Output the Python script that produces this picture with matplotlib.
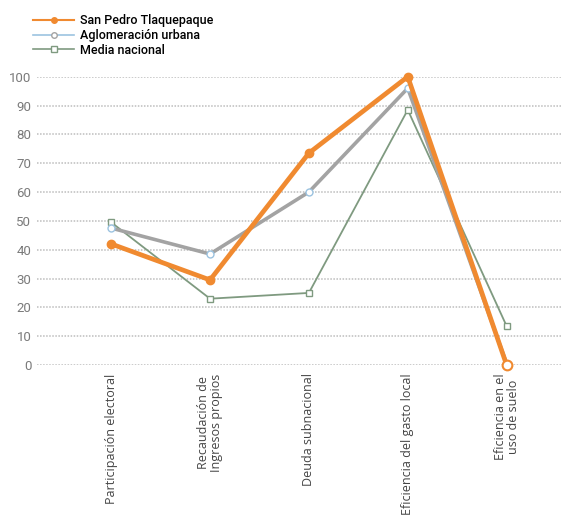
import matplotlib
matplotlib.use('Agg')
import matplotlib.pyplot as plt
from matplotlib.lines import Line2D
import numpy as np

# Categories (x axis)
categories = ['Participación electoral',
              'Recaudación de\nIngresos propios',
              'Deuda subnacional',
              'Eficiencia del gasto local',
              'Eficiencia en el\nuso de suelo']

# Series values
san_pedro = [42, 29.5, 73.5, 100, 0]
aglomeracion = [47.5, 38.5, 60, 96, 0.5]
media_nacional = [49.5, 23, 25, 88.5, 13.5]

series_names = ['San Pedro Tlaquepaque', 'Aglomeración urbana', 'Media nacional']

y_ticks = list(range(0, 101, 10))

narrow = ['Roboto', 'DejaVu Sans']

orange = '#f08a30'
gray = '#a3a3a3'
green = '#7f9a80'
lightblue = '#9cc3e0'

fig = plt.figure(figsize=(5.61, 5.21), dpi=100)
ax = fig.add_axes([37 / 561, 1 - 365 / 521, 1 - 37 / 561, (365 - 76.7) / 521])

x = np.arange(len(categories))

ax.plot(x, media_nacional, color=green, lw=1.3, marker='s', ms=5,
        mfc='white', mec=green, mew=1.0, zorder=3, clip_on=False)
ax.plot(x, aglomeracion, color=gray, lw=2.6, marker='o', ms=5,
        mfc='white', mec=lightblue, mew=1.0, zorder=4, clip_on=False)
ax.plot(x, san_pedro, color=orange, lw=3.4, marker='o', ms=6,
        mfc=orange, mec=orange, zorder=5, clip_on=False)
# last orange point is drawn open
ax.plot(x[-1], san_pedro[-1], marker='o', ms=7, mfc='white', mec=orange,
        mew=1.5, ls='none', zorder=6, clip_on=False)

ax.set_xlim(-0.75, 4.55)
ax.set_ylim(0, 100)
ax.set_yticks(y_ticks)
ax.set_yticklabels([str(v) for v in y_ticks], fontsize=9.5, color='#7a7a7a',
                   family=narrow)
ax.set_xticks(x)
ax.set_xticklabels(categories, rotation=90, fontsize=9, color='#444444',
                   family=['Open Sans', 'DejaVu Sans'], va='top', ha='center',
                   linespacing=1.0)
ax.tick_params(axis='both', length=0)
ax.tick_params(axis='y', pad=4)
ax.tick_params(axis='x', pad=6)

ax.grid(axis='y', linestyle=(0, (1, 1)), color='#bdbdbd', lw=1.1)
ax.set_axisbelow(True)
for s in ax.spines.values():
    s.set_visible(False)

# legend with thin sample lines
legend_handles = [
    Line2D([], [], color=orange, lw=1.5, marker='o', ms=4, mfc=orange, mec=orange),
    Line2D([], [], color=lightblue, lw=1.2, marker='o', ms=4, mfc='white', mec=gray),
    Line2D([], [], color=green, lw=1.2, marker='s', ms=4, mfc='white', mec=green),
]
fig.legend(legend_handles, series_names,
           loc='upper left', bbox_to_anchor=(33 / 561, 1 - 14 / 521),
           frameon=False, handlelength=3.3, handletextpad=0.5,
           labelspacing=0.15, borderpad=0, borderaxespad=0,
           prop={'family': narrow, 'weight': 'medium', 'size': 9})

fig.savefig('out.png', dpi=100, facecolor='white')
